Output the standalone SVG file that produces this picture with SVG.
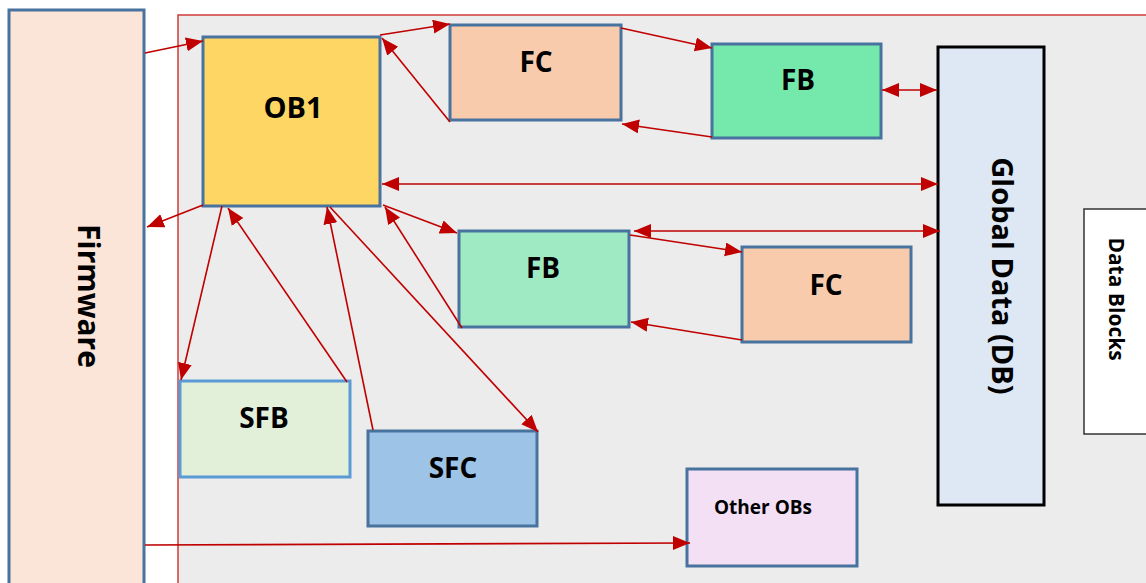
<svg xmlns="http://www.w3.org/2000/svg" width="1146" height="583" viewBox="0 0 1146 583">
<style>
.box{stroke:#48739f;stroke-width:3}
.lbl{font-family:"Open Sans","Liberation Sans",sans-serif;font-weight:700;fill:#000;text-anchor:middle}
.con line{stroke:#c00000;stroke-width:1.6;fill:none}
.a{marker-end:url(#ah)}
.d{marker-end:url(#ah);marker-start:url(#ah)}
</style>
<defs>
<marker id="ah" markerUnits="userSpaceOnUse" markerWidth="19" markerHeight="15" refX="17" refY="7" orient="auto-start-reverse">
<path d="M0,0 L17,7 L0,14 z" fill="#c00000"/>
</marker>
</defs>
<rect width="1146" height="583" fill="#ffffff"/>
<rect id="frame" x="178" y="15" width="1000" height="600" fill="#ececec" stroke="#d03a3a" stroke-width="1.5"/>

<g id="firmware">
<rect class="box" x="9" y="10" width="135" height="590" fill="#fae5d8"/>
<text class="lbl" font-size="30" transform="translate(89,296) rotate(90)" dominant-baseline="central">Firmware</text>
</g>
<g id="ob1">
<rect class="box" x="203" y="37" width="177" height="169" fill="#fdd663"/>
<text class="lbl" x="293" y="118" font-size="29">OB1</text>
</g>
<g id="fc1">
<rect class="box" x="450" y="25" width="171" height="95" fill="#f7cbab"/>
<text class="lbl" x="536" y="72" font-size="28">FC</text>
</g>
<g id="fb1">
<rect class="box" x="712" y="44" width="169" height="94" fill="#75e8ab"/>
<text class="lbl" x="798" y="90" font-size="28">FB</text>
</g>
<g id="globaldata">
<rect x="938" y="47" width="106" height="458" fill="#dde8f4" stroke="#000" stroke-width="3"/>
<text class="lbl" font-weight="600" font-size="29" transform="translate(1003,276) rotate(90)" dominant-baseline="central">Global Data (DB)</text>
</g>
<g id="datablocks">
<rect x="1084" y="209" width="80" height="225" fill="#ffffff" stroke="#333" stroke-width="1.5"/>
<text class="lbl" font-weight="600" font-size="21" transform="translate(1117,299) rotate(90)" dominant-baseline="central">Data Blocks</text>
</g>
<g id="fb2">
<rect class="box" x="459" y="231" width="170" height="96" fill="#a0eac3"/>
<text class="lbl" x="543" y="278" font-size="28">FB</text>
</g>
<g id="fc2">
<rect class="box" x="742" y="247" width="169" height="95" fill="#f7cbab"/>
<text class="lbl" x="826" y="295" font-size="28">FC</text>
</g>
<g id="sfb">
<rect x="180" y="381" width="170" height="96" fill="#e2efd9" stroke="#5b9bd5" stroke-width="3"/>
<text class="lbl" x="264" y="428" font-size="28">SFB</text>
</g>
<g id="sfc">
<rect class="box" x="368" y="431" width="169" height="95" fill="#9dc3e6"/>
<text class="lbl" x="453" y="478" font-size="28">SFC</text>
</g>
<g id="otherobs">
<rect class="box" x="687" y="469" width="170" height="97" fill="#f3e0f4"/>
<text class="lbl" x="763" y="514" font-size="19">Other OBs</text>
</g>

<g id="connectors" class="con">
<line class="a" x1="145" y1="53" x2="203" y2="41"/>
<line class="a" x1="380" y1="35" x2="450" y2="24"/>
<line class="a" x1="450" y1="122" x2="382" y2="38"/>
<line class="a" x1="621" y1="28" x2="712" y2="48"/>
<line class="a" x1="712" y1="137" x2="622" y2="124"/>
<line class="d" x1="882" y1="90" x2="937" y2="90"/>
<line class="d" x1="382" y1="184" x2="938" y2="184"/>
<line class="a" x1="203" y1="205" x2="147" y2="227"/>
<line class="a" x1="383" y1="205" x2="457" y2="233"/>
<line class="a" x1="462" y1="328" x2="385" y2="207"/>
<line class="d" x1="634" y1="231" x2="940" y2="231"/>
<line class="a" x1="630" y1="235" x2="742" y2="252"/>
<line class="a" x1="742" y1="340" x2="631" y2="322"/>
<line class="a" x1="222" y1="206" x2="181" y2="380"/>
<line class="a" x1="347" y1="382" x2="228" y2="208"/>
<line class="a" x1="373" y1="430" x2="327" y2="207"/>
<line class="a" x1="330" y1="207" x2="538" y2="432"/>
<line class="a" x1="145" y1="545" x2="690" y2="543"/>
</g>
</svg>
